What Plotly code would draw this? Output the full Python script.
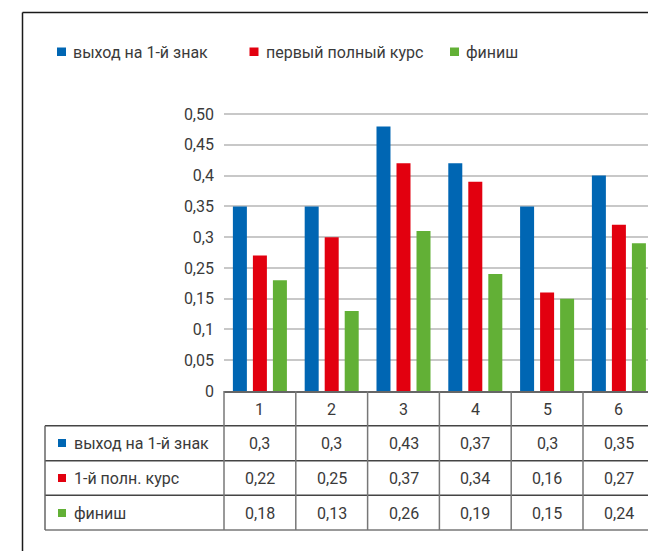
import plotly.graph_objects as go

categories = [1, 2, 3, 4, 5, 6]
series_names = ['выход на 1-й знак', 'первый полный курс', 'финиш']
row_labels = ['выход на 1-й знак', '1-й полн. курс', 'финиш']
vyhod = [0.30, 0.30, 0.43, 0.37, 0.30, 0.35]
kurs = [0.22, 0.25, 0.37, 0.34, 0.16, 0.27]
finish = [0.18, 0.13, 0.26, 0.19, 0.15, 0.24]
tick_vals = [0, 0.05, 0.1, 0.15, 0.2, 0.25, 0.3, 0.35, 0.4, 0.45]
tick_text = ['0', '0,05', '0,1', '0,15', '0,25', '0,3', '0,35', '0,4', '0,45', '0,50']

colors = ['#0066b3', '#e2000f', '#62b036']
series = [vyhod, kurs, finish]

W, H = 648, 551
ML, MT, MB = 224, 111, 160
PW, PH = W - ML, H - MT - MB
CAT_W = 71.8
x_range = [0.5, 0.5 + PW / CAT_W]
FONT = 'Roboto'
FS = 16
TXT = '#3a3a3a'


def px(x):
    return (x - ML) / PW


def py(y):
    return (H - MB - y) / PH


def fmt(v):
    return ('%g' % v).replace('.', ',')


fig = go.Figure()
for name, vals, c in zip(series_names, series, colors):
    fig.add_trace(go.Bar(x=categories, y=vals, name=name, marker=dict(color=c, line=dict(width=0))))

shapes = []
annotations = []

# frame
shapes.append(dict(type='line', xref='paper', yref='paper', x0=px(22.5), x1=px(660), y0=py(12.5), y1=py(12.5),
                   line=dict(color='#1a1a1a', width=1.5)))
shapes.append(dict(type='line', xref='paper', yref='paper', x0=px(22.5), x1=px(22.5), y0=py(12.5), y1=py(560),
                   line=dict(color='#1a1a1a', width=1.5)))

# legend
leg_x = [57, 249.5, 450]
for name, c, lx in zip(series_names, colors, leg_x):
    shapes.append(dict(type='rect', xref='paper', yref='paper', x0=px(lx), x1=px(lx + 9), y0=py(47.5), y1=py(56),
                       fillcolor=c, line=dict(width=0)))
    annotations.append(dict(xref='paper', yref='paper', x=px(lx + 14), y=py(52), text=name, showarrow=False,
                            xanchor='left', yanchor='middle', font=dict(family=FONT, size=FS, color=TXT)))

# data table
row_lines = [425.7, 460.7, 495.3, 530]
for i, yl in enumerate(row_lines):
    shapes.append(dict(type='line', xref='paper', yref='paper', x0=px(45), x1=px(660), y0=py(yl), y1=py(yl),
                       line=dict(color='#444444' if i < 3 else '#777777', width=1.5)))
shapes.append(dict(type='line', xref='paper', yref='paper', x0=px(45), x1=px(45), y0=py(425.7), y1=py(530),
                   line=dict(color='#666666', width=1.5)))
for k in range(len(categories) + 1):
    bx = ML + (k + 0.5 - x_range[0]) * CAT_W
    if bx > W + 2:
        continue
    shapes.append(dict(type='line', xref='paper', yref='paper', x0=px(bx), x1=px(bx), y0=py(391), y1=py(530),
                       line=dict(color='#777777', width=1.5)))

for c in categories:
    annotations.append(dict(xref='x', yref='paper', x=c, y=py(409), text=str(c), showarrow=False,
                            yanchor='middle', font=dict(family=FONT, size=FS, color=TXT)))
row_centers = [443, 478, 513]
for lab, vals, col, rc in zip(row_labels, series, colors, row_centers):
    shapes.append(dict(type='rect', xref='paper', yref='paper', x0=px(58), x1=px(66), y0=py(rc - 4), y1=py(rc + 4),
                       fillcolor=col, line=dict(width=0)))
    annotations.append(dict(xref='paper', yref='paper', x=px(72), y=py(rc), text=lab, showarrow=False,
                            xanchor='left', yanchor='middle', font=dict(family=FONT, size=FS, color=TXT)))
    for c, v in zip(categories, vals):
        annotations.append(dict(xref='x', yref='paper', x=c, y=py(rc), text=fmt(v), showarrow=False,
                                yanchor='middle', font=dict(family=FONT, size=FS, color=TXT)))

fig.update_layout(
    width=W, height=H,
    margin=dict(l=ML, r=0, t=MT, b=MB),
    paper_bgcolor='white', plot_bgcolor='white',
    showlegend=False,
    barmode='group', bargap=0.164, bargroupgap=0.3,
    font=dict(family=FONT, size=FS, color=TXT),
    shapes=shapes, annotations=annotations,
)
fig.update_xaxes(range=x_range, showticklabels=False, showgrid=False, zeroline=False,
                 showline=True, linecolor='#666666', linewidth=2, ticks='')
fig.update_yaxes(range=[0, 0.455], tickvals=tick_vals, ticktext=tick_text, showgrid=True,
                 gridcolor='#c8c8c8', gridwidth=1.5, zeroline=False, showline=False, ticks='',
                 ticklabelstandoff=9, tickfont=dict(family=FONT, size=FS, color=TXT))

fig.write_html('out.html', config={'displayModeBar': False},
               post_script="document.body.style.margin='0';document.body.style.overflow='hidden';")
